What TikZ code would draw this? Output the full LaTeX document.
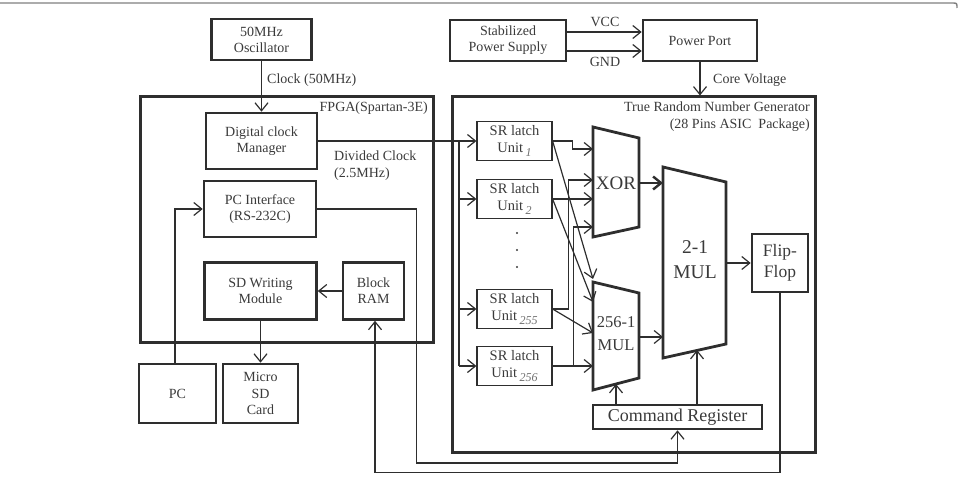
\documentclass[tikz,border=0pt]{standalone}
\usepackage{fontspec}
\setmainfont{Liberation Serif}
\usetikzlibrary{arrows.meta}
\definecolor{ink}{HTML}{2E2E2E}
\definecolor{txt}{HTML}{3A3A3A}
\definecolor{subc}{HTML}{707070}
\tikzset{
  blk/.style={draw=ink, line width=2.6pt, align=center, inner sep=0pt, text=txt, font=\fontsize{14}{16}\selectfont},
  latch/.style={draw=ink, line width=1.2pt, align=center, inner sep=0pt, minimum width=75pt, minimum height=39pt, text=txt, font=\fontsize{14.5}{17}\selectfont},
  frm/.style={draw=ink, line width=3pt, inner sep=0pt},
  wire/.style={draw=ink, line width=1.2pt},
  arr/.style={wire, -{Straight Barb[length=8pt,width=13pt]}},
  lbl/.style={text=txt, inner sep=0pt, font=\fontsize{14}{17}\selectfont},
  trap/.style={draw=ink, line width=2.8pt, line join=miter},
}
\newcommand{\unitsub}[1]{\,\raisebox{-3.5pt}{\fontsize{12}{12}\selectfont\itshape\color{subc}#1}}
\begin{document}
\begin{tikzpicture}[x=1pt,y=-1pt]
\useasboundingbox (0,0) rectangle (960,476);
\draw[gray, line width=1.4pt] (0,3) -- (952,3) .. controls (957,3) .. (957,8);

% FPGA side
\node[frm, minimum width=293pt, minimum height=245pt] (fpga) at (286.5,219.5) {};
\node[lbl, anchor=east] (fpgalbl) at (428,108) {FPGA(Spartan-3E)};
\node[blk, minimum width=100pt, minimum height=41pt] (osc) at (261.5,39.5) {50MHz\\Oscillator};
\node[blk, minimum width=111pt, minimum height=56pt] (dcm) at (261.5,141) {Digital clock\\Manager};
\node[blk, minimum width=112pt, minimum height=56pt] (pcif) at (260,209) {PC Interface\\(RS-232C)};
\node[blk, minimum width=112pt, minimum height=57pt] (sdw) at (260.5,291) {SD Writing\\Module};
\node[blk, minimum width=61pt, minimum height=57pt] (bram) at (373.5,291) {Block\\RAM};
\node[blk, minimum width=77pt, minimum height=59pt] (pc) at (177.5,393.5) {PC};
\node[blk, minimum width=75pt, minimum height=59pt, font=\fontsize{14}{16.5}\selectfont] (msd) at (260.5,393.5) {Micro\\SD\\Card};

\node[lbl, anchor=west] (clk) at (267,80) {Clock (50MHz)};
\node[lbl, anchor=north west, align=left] (div) at (334,151) {Divided Clock\\(2.5MHz)};

% power
\node[blk, minimum width=116pt, minimum height=41pt] (sps) at (508,40.5) {Stabilized\\Power Supply};
\node[blk, minimum width=114pt, minimum height=41pt] (pport) at (700,40.5) {Power Port};
\node[lbl] (vcc) at (605,22) {VCC};
\node[lbl] (gnd) at (605,62) {GND};
\node[lbl, anchor=west] (cv) at (713,80) {Core Voltage};

% TRNG
\node[frm, minimum width=363pt, minimum height=355pt] (trng) at (633.5,274.5) {};
\node[lbl, anchor=north east, align=right] (trnglbl) at (810,102) {True Random Number Generator\\(28 Pins ASIC~~Package)};

\foreach \k/\y in {1/141,2/199,255/309,256/366}{
\node[latch] (u\k) at (514.5,\y) {SR latch\\Unit\unitsub{\k}};
}
\foreach \y in {233,250,267} \fill[txt] (517,\y) circle (1.2pt);

\draw[trap] (593,127) -- (639,138) -- (639,227) -- (593,237) -- cycle;
\draw[trap] (593,282) -- (639,293) -- (639,378) -- (593,390) -- cycle;
\draw[trap] (663,167) -- (726,182) -- (726,344) -- (663,358) -- cycle;
\node[lbl, font=\fontsize{19}{19}\selectfont] (xor) at (616,183) {XOR};
\node[lbl, align=center, font=\fontsize{16.5}{23}\selectfont] (m256) at (616,334) {256-1\\MUL};
\node[lbl, align=center, font=\fontsize{19.5}{25}\selectfont] (m21) at (695,260) {2-1\\MUL};
\node[blk, minimum width=56pt, minimum height=58pt, font=\fontsize{17.5}{21}\selectfont] (ff) at (780,263) {Flip-\\Flop};
\node[blk, minimum width=169pt, minimum height=24pt, font=\fontsize{18}{20}\selectfont] (cmd) at (677.5,417) {Command Register};

\coordinate (bus) at (459,141);
\coordinate (xi1) at (593,149);
\coordinate (xi2) at (593,180);
\coordinate (xi4) at (593,227);
\coordinate (mi1) at (593,279);
\coordinate (mi2) at (593,302);
\coordinate (mi3) at (593,333);
\coordinate (mi4) at (593,366);
\coordinate (xo) at (639,183);
\coordinate (ni1) at (663,183);
\coordinate (mo) at (639,337);
\coordinate (ni2) at (663,337);
\coordinate (no) at (726,263);
\coordinate (mb) at (616,384);
\coordinate (nb) at (697,350);

% connectors
\draw[arr] (osc.south) -- (dcm.north);
\draw[arr] (dcm.east) -- (u1.west);
\draw[wire] (bus) -- (bus |- u256.west);
\foreach \k in {2,255,256} \draw[arr] (bus |- u\k.west) -- (u\k.west);
\draw[arr] ([xshift=-2.5pt]pc.north) |- (pcif.west);
\draw[arr] (pcif.east) -- ++(99,0) -- ++(0,254) -| (cmd.south);
\draw[arr] (ff.south) -- ++(0,179.5) -| ([xshift=1.5pt]bram.south);
\draw[arr] (bram.west) -- (sdw.east);
\draw[arr] (sdw.south) -- (msd.north);
\draw[arr] ([yshift=8.5pt]sps.east) -- ([yshift=8.5pt]pport.west);
\draw[arr] ([yshift=-10.5pt]sps.east) -- ([yshift=-10.5pt]pport.west);
\draw[arr] (pport.south) -- (pport.south |- trng.north);

\draw[arr] (u1.east) -- ++(20,0) |- (xi1);
\draw[arr] (u2.east) -- (u2.east -| xi1);
\draw[arr] (u255.east) -- ++(16,0) |- (xi2);
\draw[arr] (u256.east) -- ++(21,0) |- (xi4);
\foreach \k/\m in {1/1,2/2,255/3,256/4} \draw[arr] (u\k.east) -- (mi\m);
\draw[arr, line width=2.4pt] (xo) -- (ni1);
\draw[arr] (mo) -- (ni2);
\draw[arr] (no) -- (ff.west);
\draw[arr] (cmd.north -| mb) -- (mb);
\draw[arr] (cmd.north -| nb) -- (nb);
\end{tikzpicture}
\end{document}
